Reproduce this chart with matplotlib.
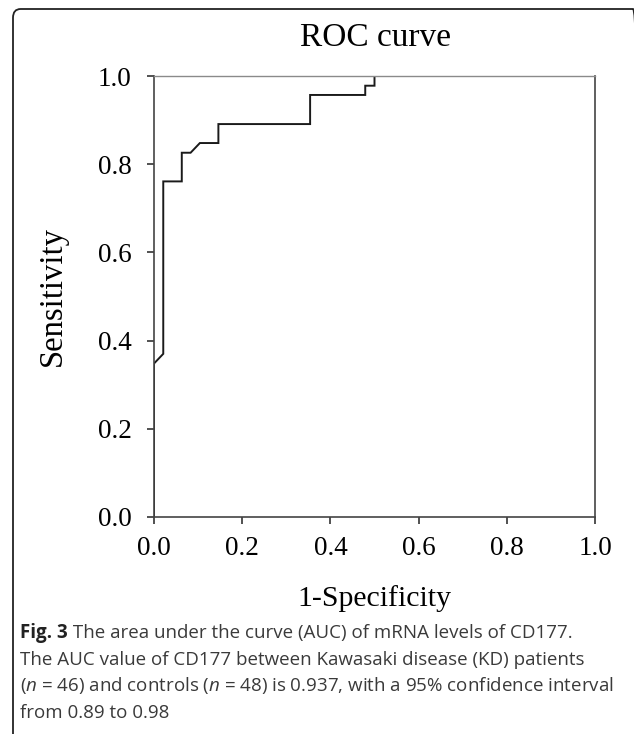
import matplotlib
matplotlib.use("Agg")
import matplotlib.pyplot as plt
from matplotlib.patches import FancyBboxPatch

# ROC curve steps (1-specificity, sensitivity)
fpr = [0.0, 0.0, 0.021, 0.021, 0.063, 0.063, 0.083, 0.104, 0.146, 0.146,
       0.354, 0.354, 0.479, 0.479, 0.500, 0.500, 1.0]
tpr = [0.0, 0.348, 0.370, 0.761, 0.761, 0.826, 0.826, 0.848, 0.848, 0.891,
       0.891, 0.957, 0.957, 0.978, 0.978, 1.0, 1.0]

ticks = [0.0, 0.2, 0.4, 0.6, 0.8, 1.0]
tick_labels = ["0.0", "0.2", "0.4", "0.6", "0.8", "1.0"]

title = "ROC curve"
xlabel = "1-Specificity"
ylabel = "Sensitivity"
cap_bold = "Fig. 3"
cap_first = " The area under the curve (AUC) of mRNA levels of CD177."
cap_rest = [
    "The AUC value of CD177 between Kawasaki disease (KD) patients",
    "($\\it{n}$ = 46) and controls ($\\it{n}$ = 48) is 0.937, with a 95% confidence interval",
    "from 0.89 to 0.98",
]

W, H = 634, 734
serif = "Liberation Serif"
plt.rcParams["mathtext.fontset"] = "custom"
plt.rcParams["mathtext.it"] = "Open Sans:italic"
plt.rcParams["mathtext.rm"] = "Open Sans"

fig = plt.figure(figsize=(W / 100, H / 100), dpi=100)

# rounded panel border (cropped on right / bottom)
border = FancyBboxPatch((13 / W, -0.02), 0.99, 1 - 9 / H + 0.02,
                        boxstyle="round,pad=0,rounding_size=0.012",
                        transform=fig.transFigure, fill=False,
                        edgecolor="#222222", linewidth=1.3)
fig.add_artist(border)

ax = fig.add_axes([154 / W, 1 - 517 / H, 441 / W, 441 / H])
ax.plot(fpr, tpr, color="#1a1a1a", linewidth=1.4, solid_joinstyle="miter")
ax.set_xlim(0, 1)
ax.set_ylim(0, 1)
ax.set_xticks(ticks)
ax.set_yticks(ticks)
ax.set_xticklabels(tick_labels, fontfamily=serif, fontsize=19.5)
ax.set_yticklabels(tick_labels, fontfamily=serif, fontsize=19.5)
ax.tick_params(direction="out", length=5, width=1.2, color="#333333")
ax.tick_params(axis="x", pad=9)
ax.tick_params(axis="y", pad=11)
for side in ["left", "bottom", "right"]:
    ax.spines[side].set_color("#444444")
    ax.spines[side].set_linewidth(1.2)
ax.spines["top"].set_color("#8a8a8a")
ax.spines["top"].set_linewidth(1.0)

ax.set_ylabel(ylabel, fontfamily=serif, fontsize=23.5, va="center")
ax.yaxis.set_label_coords(-0.229, 0.5)
ax.set_xlabel(xlabel, fontfamily=serif, fontsize=21.5, va="center")
ax.xaxis.set_label_coords(0.5, -0.184)

fig.text(375 / W, 1 - 38 / H, title, fontfamily=serif, fontsize=24,
         ha="center", va="center")

# caption
cap_size = 13.5
cap_color = "#3a3a3a"
y0 = 1 - 638 / H
line_h = 26.7 / H
tb = fig.text(20 / W, y0, cap_bold, fontfamily="Open Sans", fontweight="bold",
              fontsize=cap_size, color="#222222", va="baseline")
fig.canvas.draw()
bb = tb.get_window_extent()
fig.text(bb.x1 / W, y0, cap_first, fontfamily="Open Sans", fontsize=cap_size,
         color=cap_color, va="baseline")
for i, line in enumerate(cap_rest):
    fig.text(20 / W, y0 - (i + 1) * line_h, line, fontfamily="Open Sans",
             fontsize=cap_size, color=cap_color, va="baseline")

fig.savefig("out.png", dpi=100)
